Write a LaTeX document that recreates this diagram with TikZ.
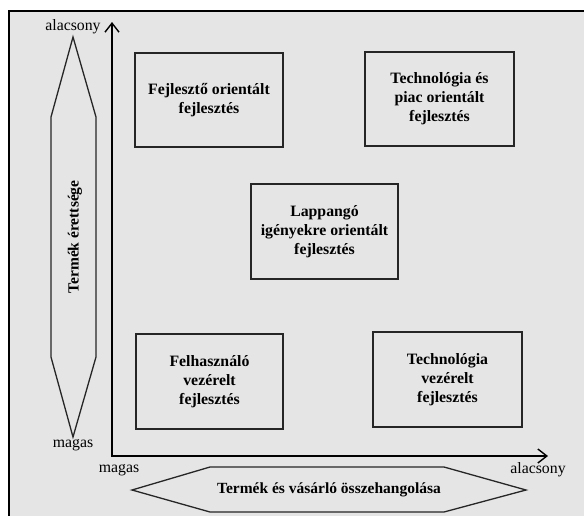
\documentclass[tikz,border=0pt]{standalone}
\usepackage{fontspec}
\setmainfont{Liberation Serif}
\usetikzlibrary{positioning, arrows.meta}

\begin{document}
\begin{tikzpicture}[x=1pt, y=-1pt,
  box/.style={draw=black!85, line width=1.3pt, minimum width=148pt, minimum height=94pt,
    align=center, font=\fontsize{15.8}{19}\selectfont\bfseries},
  axis/.style={line width=1.4pt, {Straight Barb[length=9pt,width=14pt]}-{Straight Barb[length=9pt,width=14pt]}},
  hexa/.style={draw=black!85, line width=1.3pt},
  lbl/.style={font=\fontsize{15.8}{18}\selectfont, inner sep=0pt},
  hexlbl/.style={font=\fontsize{15.5}{18}\selectfont\bfseries, inner sep=0pt}]
  \useasboundingbox (0,0) rectangle (584,515);
  \clip (0,0) rectangle (584,515);

  % Frame
  \filldraw[fill=black!10, line width=2pt] (9,11) rectangle (600,530);

  % Axes
  \coordinate (o) at (112,456);
  \coordinate (ytop) at (112,22);
  \coordinate (xend) at (548,456);
  \draw[axis] (ytop) -- (o) -- (xend);

  % Axis labels
  \node[lbl] (ylow) at (73,27) {alacsony};
  \node[lbl] (yhigh) at (73,445) {magas};
  \node[lbl] (xhigh) at (119,470) {magas};
  \node[lbl] (xlow) at (538,470) {alacsony};

  % Product maturity (vertical hexagon)
  \draw[hexa] (73,37) -- (96,117) -- (96,357) -- (73,437) -- (51,357) -- (51,117) -- cycle;
  \node[hexlbl, rotate=90] (maturity) at (75,237) {Termék érettsége};

  % Product and customer fit (horizontal hexagon)
  \draw[hexa] (132,490) -- (210,467) -- (444,467) -- (526,490) -- (444,512) -- (210,512) -- cycle;
  \node[hexlbl] (fit) at (329,490) {Termék és vásárló összehangolása};

  % Quadrant boxes
  \node[box] (developer) at (209,100) {Fejlesztő orientált\\fejlesztés};
  \node[box, minimum width=149pt] (techmarket) at (439.5,99) {Technológia és\\piac orientált\\fejlesztés};
  \node[box, minimum width=147pt, minimum height=95pt] (latent) at (324.5,231.5) {Lappangó\\igényekre orientált\\fejlesztés};
  \node[box, minimum width=147pt, minimum height=95pt] (user) at (209.5,381.5) {Felhasználó\\vezérelt\\fejlesztés};
  \node[box, minimum width=149pt, minimum height=95pt] (tech) at (447.5,379.5) {Technológia\\vezérelt\\fejlesztés};
\end{tikzpicture}
\end{document}
